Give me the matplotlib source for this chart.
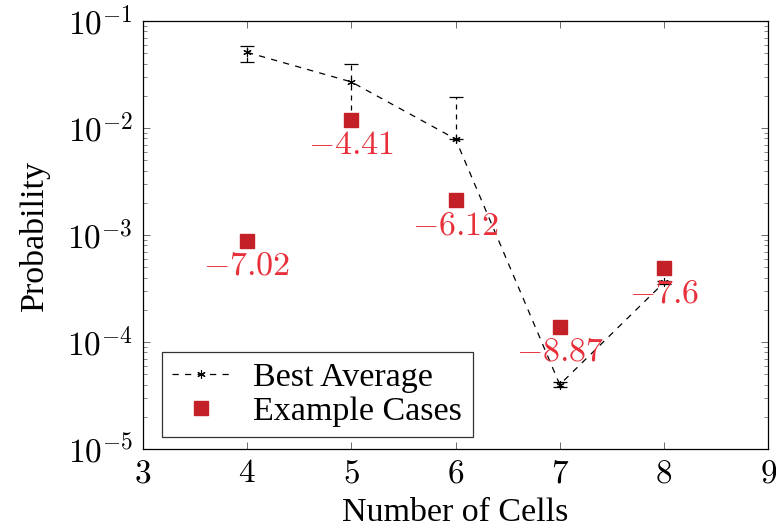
import matplotlib
matplotlib.use("Agg")
import matplotlib.pyplot as plt
from matplotlib.ticker import FixedLocator, FuncFormatter, LogLocator, NullFormatter
import numpy as np

plt.rcParams['font.family'] = ['Liberation Serif', 'DejaVu Serif']
plt.rcParams['mathtext.fontset'] = 'cm'

# Data
cells = [4, 5, 6, 7, 8]
best_avg = [0.051, 0.027, 0.0079, 4.0e-5, 3.6e-4]
err_low = [0.010, 0.0150, 0.0, 0.2e-5, 0.1e-4]
err_high = [0.007, 0.013, 0.0116, 0.2e-5, 0.1e-4]
example = [0.00088, 0.0119, 0.00212, 1.38e-4, 4.9e-4]
example_labels = ['-7.02', '-4.41', '-6.12', '-8.87', '-7.6']

fig = plt.figure(figsize=(7.76, 5.31), dpi=100)
ax = fig.add_axes([0.184, 0.1544, 0.806, 0.806])

eb = ax.errorbar(cells, best_avg, yerr=[err_low, err_high], color='black', ls='none',
                 capsize=5, elinewidth=0.9, capthick=0.9, zorder=1)
for coll in eb[2]:
    coll.set_linestyle((0, (4, 4)))
ax.plot(cells, best_avg, color='black', ls=(0, (5, 5)), lw=0.9,
        marker=(6, 2, 0), ms=6, mew=0.8, label='Best Average', zorder=3)
ax.plot(cells, example, ls='none', marker='s', ms=9.5, color='#c42028',
        label='Example Cases', zorder=2)
for x, y, t in zip(cells, example, example_labels):
    ax.annotate('$' + t + '$', (x, y), xytext=(0, -7.5), textcoords='offset points',
                ha='center', va='top', color='#e8303a', fontsize=24.5, zorder=4)

ax.set_yscale('log')
ax.set_xlim(3, 9)
ax.set_ylim(1e-5, 1e-1)
ax.xaxis.set_major_locator(FixedLocator([3, 4, 5, 6, 7, 8, 9]))
ax.xaxis.set_major_formatter(FuncFormatter(lambda v, p: '$%d$' % round(v)))
ax.yaxis.set_major_locator(FixedLocator([1e-5, 1e-4, 1e-3, 1e-2, 1e-1]))
ax.yaxis.set_major_formatter(FuncFormatter(lambda v, p: '$10^{%d}$' % round(np.log10(v))))
ax.yaxis.set_minor_locator(LogLocator(base=10, subs=np.arange(2, 10)))
ax.yaxis.set_minor_formatter(NullFormatter())
ax.tick_params(which='both', direction='in', top=True, right=True, labelsize=24,
               color='#555555')
ax.tick_params(which='major', length=5, width=0.6, pad=7)
ax.tick_params(which='minor', length=3, width=0.5)
for s in ax.spines.values():
    s.set_linewidth(0.9)

ax.set_xlabel('Number of Cells', fontsize=24.5, labelpad=6)
ax.set_ylabel('Probability', fontsize=24.5, labelpad=12)

leg = ax.legend(loc='lower left', bbox_to_anchor=(0.03, 0.028), fontsize=24.5,
                frameon=True, fancybox=False, edgecolor='black', handlelength=1.7,
                borderpad=0.3, labelspacing=0.1, handletextpad=0.7, borderaxespad=0)
leg.get_frame().set_linewidth(0.9)

fig.savefig('out.png', dpi=100)
